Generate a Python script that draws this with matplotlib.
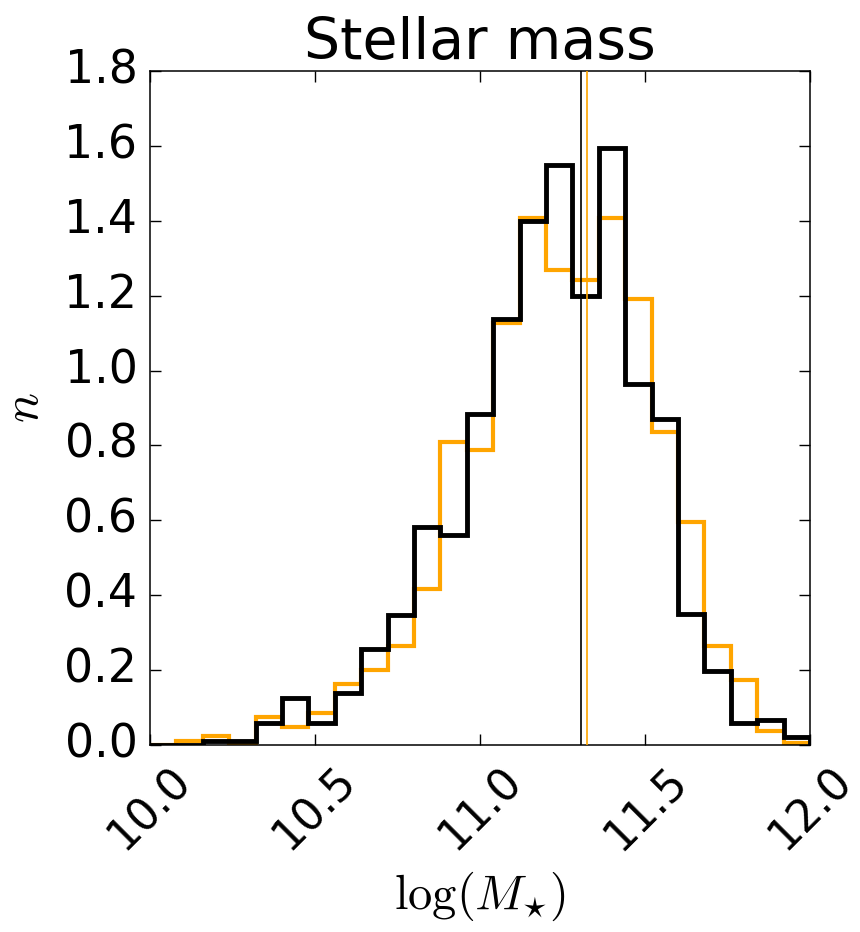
import matplotlib
matplotlib.use('Agg')
from matplotlib import pyplot as plt
import numpy as np

plt.style.use('classic')
plt.rcParams['mathtext.fontset'] = 'cm'
plt.rcParams['font.family'] = 'DejaVu Sans'

# histogram bins (log stellar mass)
bin_edges = np.linspace(10.0, 12.0, 26)

# normalised counts
n_orange = [0.0, 0.012, 0.025, 0.004, 0.075, 0.048, 0.085, 0.163, 0.200, 0.264,
            0.418, 0.808, 0.787, 1.128, 1.408, 1.269, 1.243, 1.408, 1.192, 0.835,
            0.595, 0.264, 0.175, 0.037, 0.005]
n_black = [0.0, 0.0, 0.010, 0.010, 0.058, 0.125, 0.058, 0.138, 0.256, 0.347,
           0.581, 0.560, 0.885, 1.139, 1.400, 1.549, 1.200, 1.595, 0.965, 0.872,
           0.349, 0.197, 0.058, 0.067, 0.021]

# means
mean_black = 11.306
mean_orange = 11.324

xticks = [10.0, 10.5, 11.0, 11.5, 12.0]
yticks = [0.0, 0.2, 0.4, 0.6, 0.8, 1.0, 1.2, 1.4, 1.6, 1.8]

fig = plt.figure(figsize=(8.6, 9.32), dpi=100, facecolor='white')
ax = fig.add_axes([0.1744, 0.2006, 0.7675, 0.7232])

ax.stairs(n_orange, bin_edges, color='orange', lw=3.0, zorder=2)
ax.stairs(n_black, bin_edges, color='black', lw=3.5, zorder=3)
ax.axvline(mean_black, color='black', lw=1.2, zorder=4)
ax.axvline(mean_orange, color='orange', lw=1.2, zorder=4)

ax.set_xlim(10.0, 12.0)
ax.set_ylim(0.0, 1.8)
ax.set_xticks(xticks)
ax.set_yticks(yticks)
ax.set_xticklabels(['%.1f' % t for t in xticks], rotation=45, fontsize=31.5)
ax.set_yticklabels(['%.1f' % t for t in yticks], fontsize=33)
ax.tick_params(direction='in', length=8, width=1, top=True, right=True)
ax.tick_params(axis='y', pad=9)
ax.tick_params(axis='x', pad=10)
for s in ax.spines.values():
    s.set_linewidth(1.1)

ax.set_title('Stellar mass', fontsize=41, pad=9)
ax.set_xlabel(r'$\log(M_{\star})$', fontsize=35, labelpad=8)
ax.set_ylabel(r'$n$', fontsize=36, labelpad=12)

fig.savefig('out.png', dpi=100, facecolor='white')
